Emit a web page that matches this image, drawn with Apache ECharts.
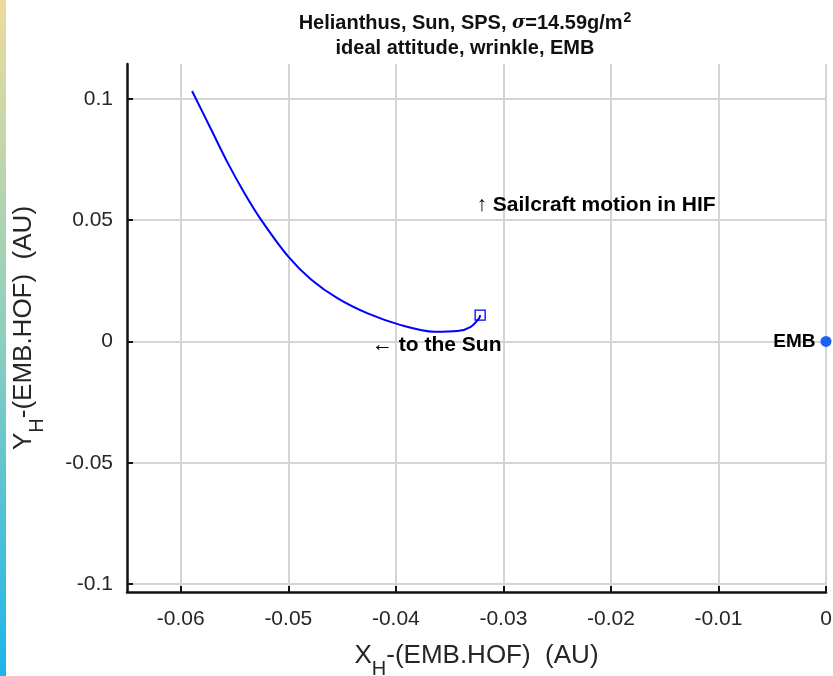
<!DOCTYPE html>
<html><head><meta charset="utf-8">
<script src="https://cdn.jsdelivr.net/npm/echarts@6/dist/echarts.min.js"></script>
<style>html,body{margin:0;padding:0;background:#fff}#c{width:833px;height:676px}</style>
</head><body><div id="c"></div>
<script>
// Trajectory of the sailcraft relative to EMB (AU)
const trajX = [-0.05895, -0.05715, -0.05561, -0.05406, -0.05251, -0.05004, -0.04788, -0.04540, -0.04262, -0.03953, -0.03643, -0.03427, -0.03303, -0.03226, -0.03216];
const trajY = [0.10317, 0.08710, 0.07336, 0.06100, 0.05001, 0.03517, 0.02556, 0.01773, 0.01155, 0.00674, 0.00399, 0.00427, 0.00605, 0.00949, 0.01086];
const embPoint = [0, 0];
const xTicks = [-0.06, -0.05, -0.04, -0.03, -0.02, -0.01, 0];
const yTicks = [-0.1, -0.05, 0, 0.05, 0.1];
const xRange = [-0.065, 0];
const yRange = [-0.1032, 0.1143];
const noteMotion = {text: '\u2191 Sailcraft motion in HIF', at: [-0.0325, 0.0560]};
const noteSun = {text: '\u2190 to the Sun', at: [-0.0362, -0.0016]};

const FONT = '"Liberation Sans", Arial, Helvetica, sans-serif';
const chart = echarts.init(document.getElementById('c'), null, {renderer: 'canvas'});

const axisCommon = {
  axisLine: {show: true, onZero: false, lineStyle: {color: '#111', width: 2.5}},
  splitLine: {show: true, lineStyle: {color: '#d5d5d5', width: 2}}
};
const tickStyle = {show: true, inside: true, length: 6, lineStyle: {color: '#111', width: 2}};
const nameRich = {
  m: {fontFamily: FONT, fontSize: 26, color: '#262626', lineHeight: 26, verticalAlign: 'top'},
  s: {fontFamily: FONT, fontSize: 20, color: '#262626', lineHeight: 36, verticalAlign: 'bottom'}
};

chart.setOption({
  backgroundColor: '#ffffff',
  animation: false,
  title: {
    text: '{b|Helianthus, Sun, SPS, }{i|\u03c3}{b|=14.59g/m}{sup|2}\n{b|ideal attitude, wrinkle, EMB}',
    left: 460, top: 6, textAlign: 'center',
    textStyle: {
      fontFamily: FONT, fontSize: 20, fontWeight: 'bold', color: '#111', lineHeight: 25,
      rich: {
        b: {fontFamily: FONT, fontSize: 20, fontWeight: 'bold', color: '#111', lineHeight: 25},
        i: {fontFamily: '"DejaVu Serif", serif', fontSize: 18, fontStyle: 'italic', color: '#111', lineHeight: 25},
        sup: {fontFamily: FONT, fontSize: 14, fontWeight: 'bold', color: '#111', verticalAlign: 'top', lineHeight: 16, padding: [0, 0, 10, 1]}
      }
    }
  },
  graphic: [{
    type: 'rect', left: 0, top: 0, silent: true,
    shape: {x: 0, y: 0, width: 6, height: 676},
    style: {fill: new echarts.graphic.LinearGradient(0, 0, 0, 1, [
      {offset: 0, color: '#ecdb9c'}, {offset: 0.5, color: '#8ccfbe'}, {offset: 1, color: '#1db5ea'}])}
  }],
  grid: {left: 127, right: 7, top: 64, bottom: 84, outerBoundsMode: 'none', containLabel: false},
  xAxis: Object.assign({
    type: 'value', min: xRange[0], max: xRange[1],
    name: '{m|X}{s|H}{m|-(EMB.HOF)  (AU)}', nameLocation: 'middle', nameGap: 51,
    nameTextStyle: {fontFamily: FONT, fontSize: 26, color: '#262626', rich: nameRich},
    axisLabel: {fontFamily: FONT, fontSize: 21, color: '#262626', margin: 17, customValues: xTicks},
    axisTick: Object.assign({customValues: xTicks}, tickStyle)
  }, axisCommon),
  yAxis: Object.assign({
    type: 'value', min: yRange[0], max: yRange[1],
    name: '{m|Y}{s|H}{m|-(EMB.HOF)  (AU)}', nameLocation: 'middle', nameGap: 80,
    nameTextStyle: {fontFamily: FONT, fontSize: 26, color: '#262626', rich: nameRich},
    axisLabel: {fontFamily: FONT, fontSize: 21, color: '#262626', margin: 14, customValues: yTicks},
    axisTick: Object.assign({customValues: yTicks}, tickStyle)
  }, axisCommon),
  series: [
    {
      type: 'line', name: 'trajectory',
      data: trajX.map((x, i) => [x, trajY[i]]),
      smooth: 0.3, showSymbol: false, symbol: 'none',
      lineStyle: {color: '#0000ff', width: 2}, z: 3
    },
    {
      type: 'scatter', name: 'end',
      data: [[trajX[trajX.length - 1], trajY[trajY.length - 1]]],
      symbol: 'rect', symbolSize: 10,
      itemStyle: {color: 'rgba(255,255,255,0)', borderColor: '#0000ff', borderWidth: 1.3, opacity: 1}, z: 4
    },
    {
      type: 'scatter', name: 'EMB',
      data: [embPoint], symbol: 'circle', symbolSize: 11,
      itemStyle: {color: '#1a62f5', opacity: 1},
      label: {show: true, position: 'left', distance: 5, formatter: 'EMB', fontFamily: FONT, fontSize: 19, fontWeight: 'bold', color: '#000', opacity: 1},
      clip: false, z: 5
    },
    {
      type: 'scatter', name: 'notes', symbolSize: 0, silent: true,
      itemStyle: {opacity: 1},
      data: [
        {value: noteMotion.at, label: {formatter: noteMotion.text, position: 'right', distance: 0}},
        {value: noteSun.at, label: {formatter: noteSun.text, position: 'inside'}}
      ],
      label: {show: true, fontFamily: FONT, fontSize: 21, fontWeight: 'bold', color: '#000', opacity: 1},
      z: 6
    }
  ]
});
</script></body></html>
